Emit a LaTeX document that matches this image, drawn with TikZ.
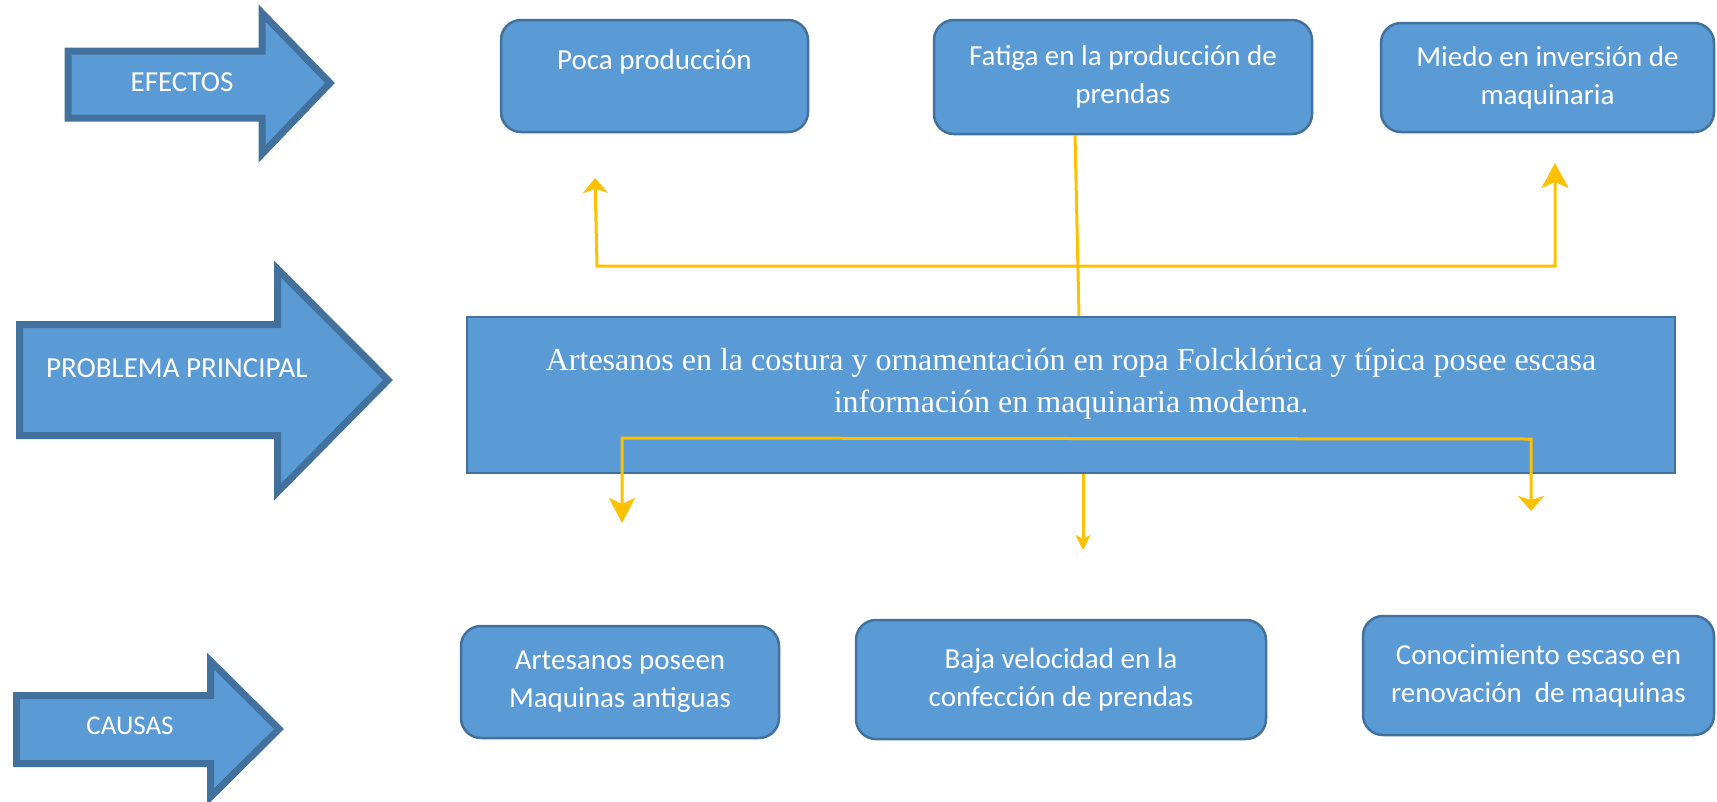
\documentclass[tikz,border=0pt]{standalone}
\usepackage{fontspec}
\newfontfamily\calfont{Carlito}
\newfontfamily\probfont{Liberation Serif}
\usetikzlibrary{arrows.meta,positioning}
\definecolor{boxblue}{HTML}{5B9BD5}
\definecolor{edgeblue}{HTML}{41719C}
\definecolor{linkgold}{HTML}{FFC000}
\tikzset{
  blockarrow/.style={draw=edgeblue, fill=boxblue, line width=7pt, line join=miter},
  arrowlabel/.style={text=white, inner sep=0pt, font=\calfont\fontsize{29}{34}\selectfont},
  efbox/.style={draw=edgeblue, fill=boxblue, line width=2.5pt, rounded corners=20pt,
    text=white, align=center, inner sep=0pt, font=\calfont\fontsize{29}{38}\selectfont},
  mainbox/.style={draw=edgeblue, fill=boxblue, line width=2.5pt},
  maintext/.style={text=white, align=center, inner sep=0pt, font=\probfont\fontsize{32}{42}\selectfont},
  link/.style={draw=linkgold, line width=3pt},
  goldhead/.tip={Stealth[length=15pt,width=25pt,inset=4pt]},
  goldbig/.tip={Stealth[length=25pt,width=26pt,inset=6pt]},
  goldthin/.tip={Stealth[length=15pt,width=15pt,inset=4pt]},
}
\begin{document}
\begin{tikzpicture}[x=1pt,y=-1pt]
\useasboundingbox (0,0) rectangle (1717,801);
% block arrows on the left
\draw[blockarrow] (68,51) -- (262,51) -- (262,13) -- (330,83) -- (262,154) -- (262,118) -- (68,118) -- cycle;
\node[arrowlabel] (efectos) at (182,82) {EFECTOS};
\draw[blockarrow] (19.5,324.5) -- (277.5,324.5) -- (277.5,269) -- (388,380) -- (277.5,492) -- (277.5,435.5) -- (19.5,435.5) -- cycle;
\node[arrowlabel, anchor=west] (problema) at (46,368) {PROBLEMA PRINCIPAL};
\draw[blockarrow] (16.5,695.5) -- (210.5,695.5) -- (210.5,661) -- (279,729) -- (210.5,797) -- (210.5,763.5) -- (16.5,763.5) -- cycle;
\node[arrowlabel, font=\calfont\fontsize{27}{32}\selectfont] (causas) at (130,726) {CAUSAS};

% effects
\node[efbox, minimum width=307pt, minimum height=112pt, text depth=33pt] (poca) at (654.5,76) {Poca producción};
\node[efbox, minimum width=378pt, minimum height=114pt] (fatiga) at (1123,77) {Fatiga en la producción de\\prendas};
\node[efbox, minimum width=333pt, minimum height=109pt] (miedo) at (1547.5,77.5) {Miedo en inversión de\\maquinaria};

% main problem
\node[mainbox, minimum width=1208pt, minimum height=156pt] (main) at (1071,395) {};
\node[maintext] (maintxt) at ([yshift=11pt]main.center) {Artesanos en la costura y ornamentación en ropa Folcklórica y típica posee escasa\\información en maquinaria moderna.};

% causes
\node[efbox, minimum width=318pt, minimum height=112pt] (antiguas) at (620,682) {Artesanos poseen\\Maquinas antiguas};
\node[efbox, minimum width=410pt, minimum height=119pt] (baja) at (1061,679.5) {Baja velocidad en la\\confección de prendas};
\node[efbox, minimum width=351pt, minimum height=119pt] (conoc) at (1538.5,675.5) {Conocimiento escaso en\\renovación~ de maquinas};

% connectors
\coordinate (pocatip) at (595,178);
\coordinate (miedotip) at (1555,163);
\coordinate (lefttip) at (622,523);
\coordinate (righttip) at (1531,511);
\coordinate (midtip) at (1083,550);
\draw[link] ([xshift=-48pt]fatiga.south) -- ([xshift=8pt]main.north);
\draw[link, {goldhead}-{Stealth[length=25pt,width=27pt,inset=6pt]}] (pocatip) -- (597,266) -- (1555,266) -- (miedotip);
\draw[link, {goldbig}-{Stealth[length=15pt,width=26pt,inset=4pt]}] (lefttip) -- (622,438) -- (1531,439) -- (righttip);
\draw[link, -{goldthin}] ([xshift=12pt]main.south) -- (midtip);
\end{tikzpicture}
\end{document}
